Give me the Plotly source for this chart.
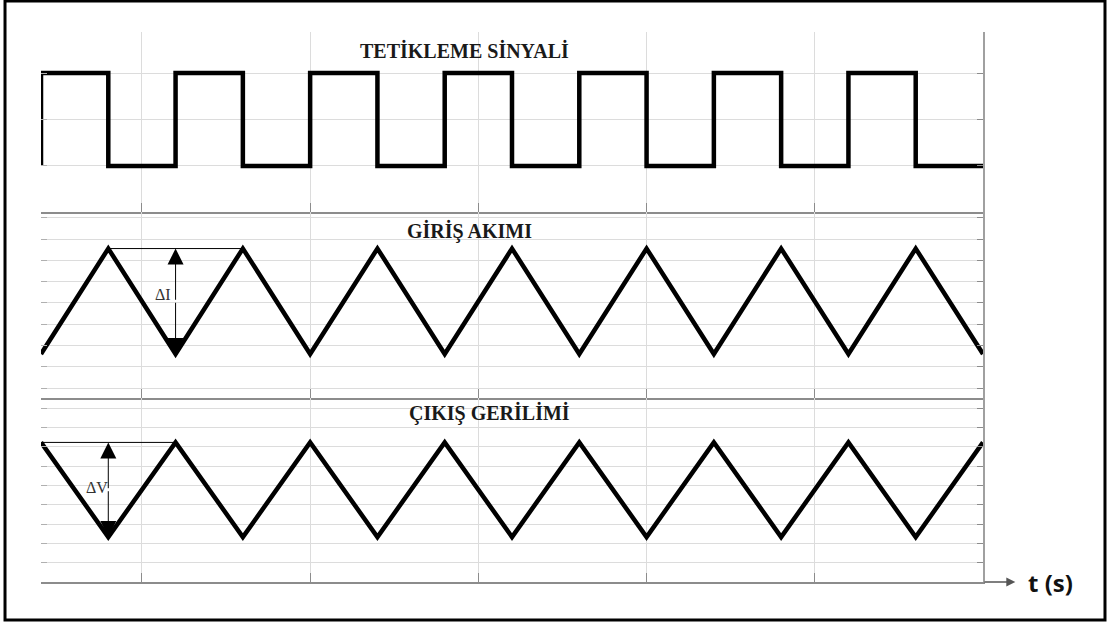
import plotly.graph_objects as go

# ---- data (time in half switching periods) ----
half_period_t = list(range(15))
trigger = [1, 0, 1, 0, 1, 0, 1, 0, 1, 0, 1, 0, 1, 0, 0]
input_current = [1.6, 6.56, 1.6, 6.56, 1.6, 6.56, 1.6, 6.56, 1.6, 6.56, 1.6, 6.56, 1.6, 6.56, 1.6]
output_voltage = [7.23, 2.33, 7.23, 2.33, 7.23, 2.33, 7.23, 2.33, 7.23, 2.33, 7.23, 2.33, 7.23, 2.33, 7.23]
panel_titles = ["TETİKLEME SİNYALİ", "GİRİŞ AKIMI", "ÇIKIŞ GERİLİMİ"]
delta_labels = ["ΔI", "ΔV"]
time_label = "t (s)"

BLACK = "#000000"
GRID = "#dcdcdc"
AXC = "#8c8c8c"

fig = go.Figure()

# trigger square wave (starts with a rising edge)
fig.add_trace(go.Scatter(x=[half_period_t[0]] + half_period_t, y=[0] + trigger,
                         mode="lines", line=dict(color=BLACK, width=4.5, shape="hv"),
                         xaxis="x", yaxis="y", showlegend=False, hoverinfo="skip"))
# input current
fig.add_trace(go.Scatter(x=half_period_t, y=input_current, mode="lines",
                         line=dict(color=BLACK, width=4.5), xaxis="x2", yaxis="y2",
                         showlegend=False, hoverinfo="skip"))
# output voltage
fig.add_trace(go.Scatter(x=half_period_t, y=output_voltage, mode="lines",
                         line=dict(color=BLACK, width=4.5), xaxis="x3", yaxis="y3",
                         showlegend=False, hoverinfo="skip"))
# reference lines for delta annotations
fig.add_trace(go.Scatter(x=[half_period_t[1], half_period_t[3]], y=[input_current[1], input_current[3]],
                         mode="lines", line=dict(color=BLACK, width=1), xaxis="x2", yaxis="y2",
                         showlegend=False, hoverinfo="skip"))
fig.add_trace(go.Scatter(x=[half_period_t[0], half_period_t[2]], y=[output_voltage[0], output_voltage[2]],
                         mode="lines", line=dict(color=BLACK, width=1), xaxis="x3", yaxis="y3",
                         showlegend=False, hoverinfo="skip"))

xcommon = dict(range=[0, 14], showgrid=True, gridcolor=GRID, gridwidth=1, tick0=1.5, dtick=2.5,
               showticklabels=False, ticks="inside", ticklen=9, tickcolor=AXC, tickwidth=1,
               showline=True, linecolor=AXC, linewidth=2, zeroline=False, fixedrange=True)
ycommon = dict(showgrid=True, gridcolor=GRID, gridwidth=1, showticklabels=False,
               ticks="inside", ticklen=6, tickcolor=AXC, side="right",
               showline=True, linecolor="#a0a0a0", linewidth=2, zeroline=False, fixedrange=True)
yleft = dict(showgrid=False, showticklabels=False, ticks="inside", ticklen=6, tickcolor="#b0b0b0",
             side="left", showline=False, zeroline=False, fixedrange=True)

d_top = [(582 - 212) / 550, 1.0]
d_mid = [(582 - 398) / 550, (582 - 212) / 550]
d_bot = [0.0, (582 - 398) / 550]

layout = dict(
    width=1109, height=625,
    margin=dict(l=41, r=126, t=32, b=43),
    paper_bgcolor="white", plot_bgcolor="white",
    xaxis=dict(xcommon, anchor="y"),
    xaxis2=dict(xcommon, anchor="y2", matches="x"),
    xaxis3=dict(xcommon, anchor="y3", matches="x"),
    yaxis=dict(ycommon, domain=d_top, range=[-0.495, 1.441], tick0=0, dtick=0.5, anchor="x"),
    yaxis2=dict(ycommon, domain=d_mid, range=[-0.47, 8.28], tick0=0, dtick=1, anchor="x2"),
    yaxis3=dict(ycommon, domain=d_bot, range=[0, 9.53], tick0=0, dtick=1, anchor="x3"),
    yaxis4=dict(yleft, overlaying="y", range=[-0.495, 1.441], tick0=0, dtick=0.5, anchor="x"),
    yaxis5=dict(yleft, overlaying="y2", range=[-0.47, 8.28], tick0=0, dtick=1, anchor="x2"),
    yaxis6=dict(yleft, overlaying="y3", range=[0, 9.53], tick0=0, dtick=1, anchor="x3"),
)
fig.update_layout(**layout)

# dummy traces so that left tick axes render
for ya, xa in (("y4", "x"), ("y5", "x2"), ("y6", "x3")):
    fig.add_trace(go.Scatter(x=[None], y=[None], xaxis=xa, yaxis=ya, showlegend=False))

title_font = dict(family="Liberation Serif", size=20, color="#1a1a1a")


def double_arrow(xref, yref, x, y_top, y_bot):
    mid = (y_top + y_bot) / 2
    out = []
    for tip in (y_top, y_bot):
        out.append(dict(text="", xref=xref, yref=yref, x=x, y=tip, axref=xref, ayref=yref,
                        ax=x, ay=mid, showarrow=True, arrowhead=2, arrowsize=3.2,
                        arrowwidth=1, arrowcolor=BLACK))
    return out


annots = [
    dict(text="<b>%s</b>" % panel_titles[0], xref="paper", yref="paper", x=0.450, y=0.9655,
         showarrow=False, font=title_font, xanchor="center", yanchor="middle"),
    dict(text="<b>%s</b>" % panel_titles[1], xref="paper", yref="paper", x=0.4554, y=0.638,
         showarrow=False, font=title_font, xanchor="center", yanchor="middle"),
    dict(text="<b>%s</b>" % panel_titles[2], xref="paper", yref="paper", x=0.476, y=0.307,
         showarrow=False, font=title_font, xanchor="center", yanchor="middle"),
    # delta labels
    dict(text=delta_labels[0], xref="x2", yref="y2", x=1.81, y=4.38, showarrow=False,
         font=dict(family="Liberation Serif", size=16, color="#333"), xanchor="center", yanchor="middle"),
    dict(text=delta_labels[1], xref="x3", yref="y3", x=0.83, y=4.87, showarrow=False,
         font=dict(family="Liberation Serif", size=16, color="#333"), xanchor="center", yanchor="middle"),
    # time axis arrow
    dict(text="", xref="x3", yref="y3", x=14.48, y=0, axref="x3", ayref="y3", ax=14, ay=0,
         showarrow=True, arrowhead=2, arrowsize=1.2, arrowwidth=1.5, arrowcolor="#555"),
    dict(text="<b>%s</b>" % time_label, xref="paper", yref="paper", x=1.072, y=0.0,
         showarrow=False, font=dict(family="Open Sans", size=24, color="#111"),
         xanchor="center", yanchor="middle"),
]
annots += double_arrow("x2", "y2", half_period_t[2], input_current[1], input_current[2])
annots += double_arrow("x3", "y3", half_period_t[1], output_voltage[0], output_voltage[1])
fig.update_layout(annotations=annots)

# outer frame
fig.add_shape(type="rect", xref="paper", yref="paper", x0=-0.0382, x1=1.1295, y0=-0.0691, y1=1.0564,
              line=dict(color=BLACK, width=3), fillcolor="rgba(0,0,0,0)", layer="above")

fig.write_html("out.html", config={"displayModeBar": False},
               post_script="document.body.style.margin='0px';document.body.style.overflow='hidden';")
